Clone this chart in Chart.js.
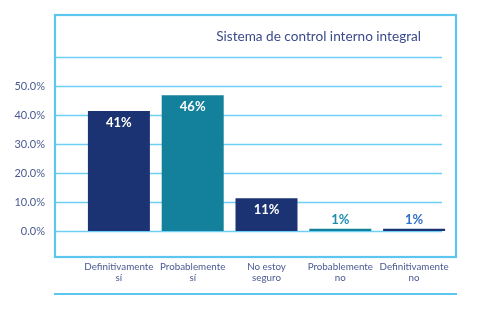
<!DOCTYPE html>
<html>
<head>
<meta charset="utf-8">
<script src="https://cdn.jsdelivr.net/npm/chart.js@4"></script>
<style>
  body { margin: 0; background: #fff; }
</style>
</head>
<body>
<canvas id="chart" width="477" height="318"></canvas>
<script>
// Datos
const categories = [['Definitivamente', 'sí'], ['Probablemente', 'sí'], ['No estoy', 'seguro'], ['Probablemente', 'no'], ['Definitivamente', 'no']];
const values = [41.4, 46.8, 11.3, 0.8, 0.8];
const valueLabels = ['41%', '46%', '11%', '1%', '1%'];
const barColors = ['#1b3372', '#14819c', '#1b3372', '#14819c', '#1b3372'];
const outsideLabelColors = ['#1b3372', '#1e8db0', '#1b3372', '#1e8db0', '#2f6fc4'];
const yTicks = [0, 10, 20, 30, 40, 50, 60];
const title = 'Sistema de control interno integral';

const frameColor = '#5cc6ef';
const gridColor = '#6ccff3';
const textColor = '#4a5a92';

// Marco, líneas de cuadrícula, título y etiquetas
const decoPlugin = {
    id: 'deco',
    beforeDatasetsDraw(chart) {
        const { ctx, chartArea, scales } = chart;
        ctx.save();
        ctx.strokeStyle = gridColor;
        ctx.lineWidth = 1.5;
        yTicks.forEach(v => {
            const y = Math.round(scales.y.getPixelForValue(v)) + 0.5;
            ctx.beginPath();
            ctx.moveTo(chartArea.left - 26, y);
            ctx.lineTo(chartArea.right - 9, y);
            ctx.stroke();
        });
        ctx.restore();
    },
    afterDraw(chart) {
        const { ctx, chartArea } = chart;
        ctx.save();
        ctx.strokeStyle = frameColor;
        ctx.lineWidth = 2.2;
        const left = chartArea.left - 27, right = chartArea.right + 5;
        const top = chartArea.top - 42, bottom = chartArea.bottom + 26;
        ctx.strokeRect(left, top, right - left, bottom - top);
        ctx.beginPath();
        ctx.moveTo(left - 1, chartArea.bottom + 63);
        ctx.lineTo(right + 1, chartArea.bottom + 63);
        ctx.stroke();

        ctx.fillStyle = '#3b4a8a';
        ctx.font = '13.6px Lato';
        ctx.textAlign = 'right';
        ctx.textBaseline = 'middle';
        ctx.fillText(title, chartArea.right - 30, chartArea.top - 20);
        ctx.restore();
    },
    afterDatasetsDraw(chart) {
        const { ctx } = chart;
        const meta = chart.getDatasetMeta(0);
        ctx.save();
        ctx.font = 'bold 13px Lato';
        ctx.textAlign = 'center';
        ctx.textBaseline = 'middle';
        meta.data.forEach((bar, i) => {
            if (values[i] > 5) {
                ctx.fillStyle = '#ffffff';
                ctx.fillText(valueLabels[i], bar.x, bar.y + 12);
            } else {
                ctx.fillStyle = outsideLabelColors[i];
                ctx.fillText(valueLabels[i], bar.x, bar.y - 9);
            }
        });
        ctx.restore();
    }
};

const chart = new Chart(document.getElementById('chart'), {
    type: 'bar',
    data: {
        labels: categories,
        datasets: [{
            data: values,
            backgroundColor: barColors,
            barPercentage: 0.84,
            categoryPercentage: 1
        }]
    },
    options: {
        responsive: false,
        animation: false,
        layout: { padding: { top: 57, right: 26, bottom: 0, left: 0 } },
        plugins: {
            legend: { display: false },
            tooltip: { enabled: false }
        },
        scales: {
            x: {
                grid: { display: false, drawTicks: false },
                border: { display: false },
                ticks: {
                    color: textColor,
                    font: { family: 'Lato', size: 9.8, lineHeight: 1.15 },
                    padding: 30,
                    maxRotation: 0,
                    autoSkip: false
                },
                afterFit(scale) {
                    scale.height = 87;
                    scale.paddingLeft = 0;
                    scale.paddingRight = 0;
                }
            },
            y: {
                min: 0,
                max: 60,
                grid: { display: false, drawTicks: false },
                border: { display: false },
                afterBuildTicks(scale) { scale.ticks = yTicks.map(v => ({ value: v })); },
                ticks: {
                    color: textColor,
                    font: { family: 'Lato', size: 11 },
                    padding: 37,
                    callback: v => (v >= 60 ? '' : v.toFixed(1) + '%')
                },
                afterFit(scale) { scale.width = 82; }
            }
        }
    },
    plugins: [decoPlugin]
});
</script>
</body>
</html>
